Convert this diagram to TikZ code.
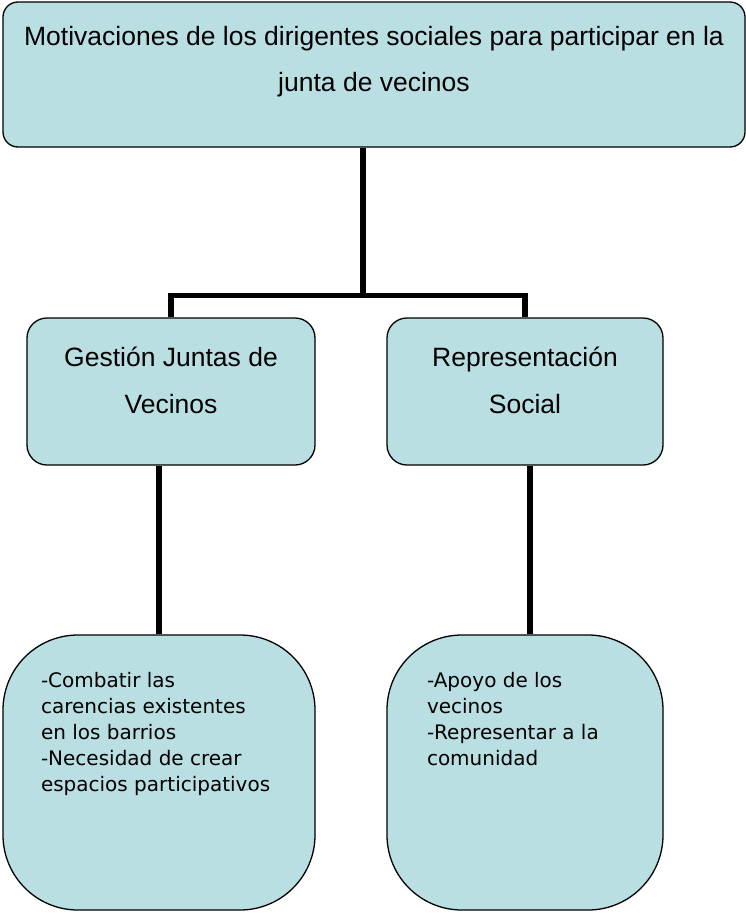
\documentclass[tikz,border=0pt]{standalone}
\usepackage{fontspec}
\setmainfont{Liberation Sans}
\newfontfamily\fuentelista{DejaVu Sans}
\definecolor{celeste}{RGB}{186,223,226}

\begin{document}
\begin{tikzpicture}[x=1pt,y=-1pt,
		caja/.style={draw=black, line width=1.3pt, fill=celeste, inner sep=0pt, rounded corners=#1},
		caja/.default=18pt,
		enlace/.style={black, line width=5.3pt}]
			\useasboundingbox (0,0) rectangle (746,913);
			\node [caja=15pt] (motivaciones) at (374,74.5) {\parbox[b][145pt][t]{742pt}{\centering\fontsize{26.5}{46}\selectfont\vspace*{24.5pt}Motivaciones de los dirigentes sociales para participar en la\\junta de vecinos}};
			\node [caja=20pt] (gestion) at (171,391.5) {\parbox[b][147pt][t]{288pt}{\centering\fontsize{26.5}{47}\selectfont\vspace*{28.5pt}Gestión Juntas de\\Vecinos}};
			\node [caja=20pt] (representacion) at (525,391.5) {\parbox[b][147pt][t]{276pt}{\centering\fontsize{26.5}{47}\selectfont\vspace*{28.5pt}Representación\\Social}};
			\node [caja=75pt] (carencias) at (159,772.5) {\parbox[b][275pt][t]{312pt}{\fuentelista\fontsize{20}{26}\selectfont\raggedright\leftskip=38pt\vspace*{37.5pt}-Combatir las\\carencias existentes\\en los barrios\\-Necesidad de crear\\espacios participativos}};
			\node [caja=75pt] (apoyo) at (525,772.5) {\parbox[b][275pt][t]{276pt}{\fuentelista\fontsize{20}{26}\selectfont\raggedright\leftskip=40pt\vspace*{37.5pt}-Apoyo de los\\vecinos\\-Representar a la\\comunidad}};
			\coordinate (cruce) at (363,295.5);
			\draw [enlace] (cruce) -- (cruce |- motivaciones.south);
			\draw [enlace] (gestion.north) |- (cruce) -| (representacion.north);
			\draw [enlace] (gestion.south -| carencias.north) -- (carencias.north);
			\draw [enlace] ([xshift=5pt]representacion.south) -- ([xshift=5pt]apoyo.north);
		\end{tikzpicture}
\end{document}
